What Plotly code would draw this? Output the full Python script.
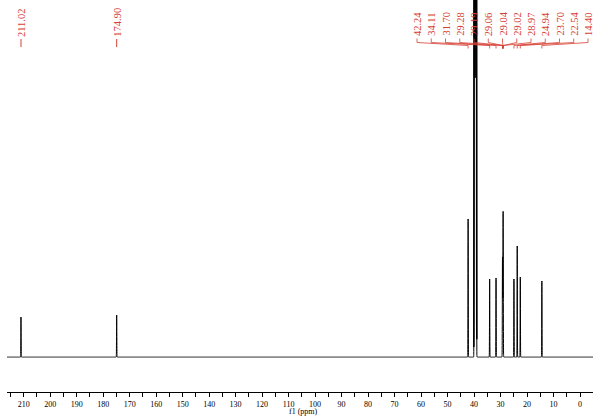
import numpy as np
import plotly.graph_objects as go

# ---- data (13C NMR spectrum) ----
peak_ppm = [211.02, 174.90, 42.24, 34.11, 31.70, 29.28, 29.19, 29.06, 29.04,
            29.02, 28.97, 24.94, 23.70, 22.54, 14.40]
peak_height = [40, 42, 138, 78, 79, 84, 60, 45, 45, 45, 40, 78, 111, 80, 76]

solvent_ppm = [39.10, 39.31, 39.52, 39.73, 39.94]
solvent_height = [900, 1800, 2100, 1800, 900]

left_label_ppm = [211.02, 174.90]
left_labels = ["211.02", "174.90"]

cluster_label_ppm = [42.24, 34.11, 31.70, 29.28, 29.19, 29.06, 29.04, 29.02,
                     28.97, 24.94, 23.70, 22.54, 14.40]
cluster_labels = ["42.24", "34.11", "31.70", "29.28", "29.19", "29.06", "29.04",
                  "29.02", "28.97", "24.94", "23.70", "22.54", "14.40"]

tick_values = [210, 200, 190, 180, 170, 160, 150, 140, 130, 120, 110, 100,
               90, 80, 70, 60, 50, 40, 30, 20, 10, 0]
tick_text = [str(v) for v in tick_values]

# ---- geometry ----
W, H = 600, 417
ML, MR, MT, MB = 7, 7, 0, 25
X_LEFT, X_RIGHT = 216.3, -4.9
PLOT_W = W - ML - MR
PLOT_H = H - MT - MB
BASE = 35.0
SIGMA = 0.05
RED = "rgb(214,64,52)"


def px_to_ppm(xp):
    return X_LEFT - (xp - ML) / PLOT_W * (X_LEFT - X_RIGHT)


def py_to_y(yp):
    return PLOT_H - (yp - MT)


# spectrum from the peak list
x = np.arange(X_RIGHT, X_LEFT, 0.01)
y = np.full_like(x, BASE)
for p, h in zip(peak_ppm + solvent_ppm, peak_height + solvent_height):
    y += h * np.exp(-0.5 * ((x - p) / SIGMA) ** 2)

# solvent multiplet region drawn with a heavier stroke (appears as a solid bar)
sv = (x > min(solvent_ppm) - 0.15) & (x < max(solvent_ppm) + 0.15)

fig = go.Figure()
fig.add_trace(go.Scatter(x=x, y=y, mode="lines",
                         line=dict(color="black", width=1, simplify=False),
                         hoverinfo="skip", showlegend=False))
fig.add_trace(go.Scatter(x=x[sv], y=y[sv], mode="lines",
                         line=dict(color="black", width=1.6, simplify=False),
                         hoverinfo="skip", showlegend=False))

annotations = []
shapes = []
lab_font = dict(family="Liberation Serif", size=10.5, color=RED)

for p, t in zip(left_label_ppm, left_labels):
    annotations.append(dict(x=p, y=py_to_y(38.5), xref="x", yref="y", text=t,
                            textangle=-90, showarrow=False, xanchor="center",
                            yanchor="bottom", font=lab_font))
    shapes.append(dict(type="line", xref="x", yref="y", x0=p, x1=p,
                       y0=py_to_y(39), y1=py_to_y(47),
                       line=dict(color=RED, width=1)))

for i, (p, t) in enumerate(zip(cluster_label_ppm, cluster_labels)):
    lx = px_to_ppm(417 + 14.25 * i)
    annotations.append(dict(x=lx, y=py_to_y(38), xref="x", yref="y", text=t,
                            textangle=-90, showarrow=False, xanchor="center",
                            yanchor="bottom", font=lab_font))
    for (xa, ya, xb, yb) in [(lx, 38.5, lx, 42.5), (lx, 42.5, p, 45.5), (p, 45.5, p, 48.5)]:
        shapes.append(dict(type="line", xref="x", yref="y", x0=xa, x1=xb,
                           y0=py_to_y(ya), y1=py_to_y(yb),
                           line=dict(color=RED, width=0.8)))

annotations.append(dict(x=(303 - ML) / PLOT_W, y=-(411.5 - (MT + PLOT_H)) / PLOT_H,
                        xref="paper", yref="paper", text="f1 (ppm)", showarrow=False,
                        xanchor="center", yanchor="middle",
                        font=dict(family="Liberation Serif", size=8, color="black")))

fig.update_layout(
    width=W, height=H,
    margin=dict(l=ML, r=MR, t=MT, b=MB),
    paper_bgcolor="white", plot_bgcolor="white",
    annotations=annotations, shapes=shapes,
    xaxis=dict(range=[X_LEFT, X_RIGHT], showgrid=False, zeroline=False,
               showline=True, linecolor="black", linewidth=1,
               ticks="outside", ticklen=4, tickwidth=1, tickcolor="black",
               tickmode="array", tickvals=tick_values, ticktext=tick_text,
               tickfont=dict(family="Liberation Serif", size=8, color="black"),
               minor=dict(dtick=5, tick0=0, ticks="outside", ticklen=4,
                          tickcolor="black", tickwidth=1, showgrid=False)),
    yaxis=dict(range=[0, PLOT_H], visible=False, showgrid=False, zeroline=False),
)

fig.write_html("out.html", config={"displayModeBar": False},
               post_script="document.body.style.margin='0';document.body.style.padding='0';")
